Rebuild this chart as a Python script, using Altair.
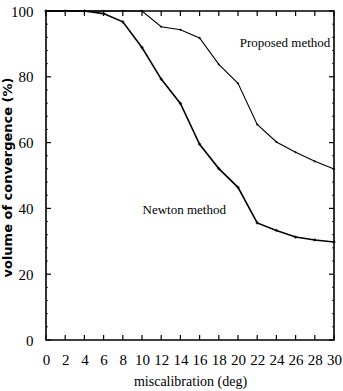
import altair as alt
import pandas as pd

x_vals = [0, 2, 4, 6, 8, 10, 12, 14, 16, 18, 20, 22, 24, 26, 28, 30]
newton = [100, 100, 100, 99.2, 96.7, 88.9, 79.3, 71.9, 59.5, 52.1, 46.4, 35.6, 33.3, 31.3, 30.4, 29.8]
proposed = [100, 100, 100, 100, 100, 100, 95.2, 94.3, 91.8, 83.8, 78.0, 65.5, 60.2, 57.1, 54.3, 52.0]

x_ticks = list(range(0, 31, 2))
y_ticks = [0, 20, 40, 60, 80, 100]
y_minor = [v for v in range(0, 101, 4) if v % 20 != 0]

labels = ["Proposed method", "Newton method"]
label_x = [24.9, 14.4]
label_y = [90.3, 39.5]

W, H = 288, 329
FONT = "Liberation Serif"

df_n = pd.DataFrame({"x": x_vals, "y": newton})
df_p = pd.DataFrame({"x": x_vals, "y": proposed})
df_lab = pd.DataFrame({"label": labels, "x": label_x, "y": label_y})
df_xt = pd.DataFrame({"t": x_ticks})
df_yt = pd.DataFrame({"t": y_ticks})
df_ym = pd.DataFrame({"t": y_minor})

xs = alt.Scale(domain=[0, 30], nice=False, zero=False)
ys = alt.Scale(domain=[0, 100], nice=False)

xaxis = alt.Axis(values=x_ticks, tickSize=0, domain=False, grid=False,
                 labelOverlap=False, labelFlush=False, labelBound=False,
                 labelPadding=12, labelFont=FONT, labelFontSize=15, labelColor="black",
                 title="miscalibration (deg)", titleFont=FONT, titleFontSize=14,
                 titleColor="black", titleFontWeight="normal", titleY=41,
                 titleBaseline="middle")
yaxis = alt.Axis(values=y_ticks, tickSize=0, domain=False, grid=False,
                 labelOverlap=False, labelFlush=False, labelBound=False,
                 labelPadding=13, labelFont=FONT, labelFontSize=15, labelColor="black",
                 title="volume of convergence (%)", titleFont="DejaVu Sans", titleFontSize=13,
                 titleColor="black", titleFontWeight="bold", titleX=-39, titleY=166,
                 titleAngle=270, titleAlign="center", titleBaseline="middle")


def X(field):
    return alt.X(field, scale=xs, axis=xaxis, title="miscalibration (deg)")


def Y(field):
    return alt.Y(field, scale=ys, axis=yaxis, title="volume of convergence (%)")


base_n = alt.Chart(df_n).encode(x=X("x:Q"), y=Y("y:Q"))
line_n = base_n.mark_line(color="black", strokeWidth=1.6)
pts_n = base_n.mark_point(shape="diamond", filled=True, color="black", size=14)

base_p = alt.Chart(df_p).encode(x=X("x:Q"), y=Y("y:Q"))
line_p = base_p.mark_line(color="black", strokeWidth=1.1)
pts_p = base_p.mark_point(shape="diamond", filled=True, color="black", size=8)

text = alt.Chart(df_lab).mark_text(fontSize=13, color="black").encode(
    x=X("x:Q"), y=Y("y:Q"), text="label:N")

TL = 5
bottom_ticks = alt.Chart(df_xt).mark_rule(color="black", strokeWidth=1.2).encode(
    x=X("t:Q"), y=alt.value(H), y2=alt.value(H - TL))
top_ticks = alt.Chart(df_xt).mark_rule(color="black", strokeWidth=1.2).encode(
    x=X("t:Q"), y=alt.value(0), y2=alt.value(TL))
left_ticks = alt.Chart(df_yt).mark_rule(color="black", strokeWidth=1.2).encode(
    y=Y("t:Q"), x=alt.value(0), x2=alt.value(TL))
right_ticks = alt.Chart(df_yt).mark_rule(color="black", strokeWidth=1.2).encode(
    y=Y("t:Q"), x=alt.value(W), x2=alt.value(W - TL))
left_minor = alt.Chart(df_ym).mark_rule(color="black", strokeWidth=0.8).encode(
    y=Y("t:Q"), x=alt.value(0), x2=alt.value(2))
right_minor = alt.Chart(df_ym).mark_rule(color="black", strokeWidth=0.8).encode(
    y=Y("t:Q"), x=alt.value(W), x2=alt.value(W - 2))

chart = alt.layer(line_n, pts_n, line_p, pts_p, text,
                  bottom_ticks, top_ticks, left_ticks, right_ticks, left_minor, right_minor
                  ).properties(
    width=W, height=H,
    autosize=alt.AutoSizeParams(type="none"),
    padding={"left": 46, "top": 11, "right": 9, "bottom": 51},
    background="white",
).configure(
    font=FONT,
    style={"guide-label": {"font": FONT, "fontSize": 15},
           "guide-title": {"font": FONT, "fontSize": 14}},
).configure_axis(
    labelFont=FONT, labelFontSize=15, titleFont=FONT, titleFontSize=14,
).configure_text(font=FONT).configure_view(stroke="black", strokeWidth=1.6)

chart.save("out.html", embed_options={"renderer": "svg", "actions": False})
